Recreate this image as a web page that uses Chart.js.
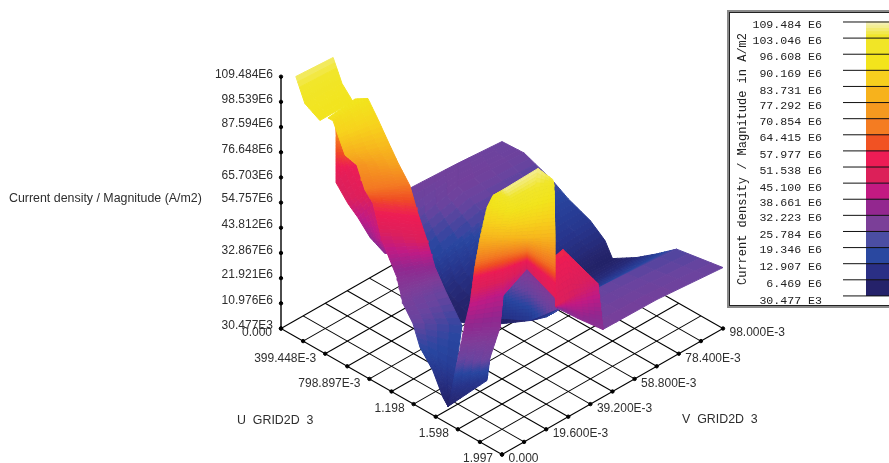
<!DOCTYPE html>
<html><head><meta charset="utf-8">
<style>html,body{margin:0;padding:0;background:#fff}canvas{display:block;filter:blur(.45px)}</style>
<script src="https://cdn.jsdelivr.net/npm/chart.js@4"></script></head>
<body><canvas id="c" width="889" height="463"></canvas>
<script>
// ---- axis labels ----
const zLabels=["30.477E3","10.976E6","21.921E6","32.867E6","43.812E6","54.757E6","65.703E6","76.648E6","87.594E6","98.539E6","109.484E6"];
const uLabels=["0.000","399.448E-3","798.897E-3","1.198","1.598","1.997"];
const vLabels=["0.000","19.600E-3","39.200E-3","58.800E-3","78.400E-3","98.000E-3"];
const legendValues=[109.484,103.046,96.608,90.169,83.731,77.292,70.854,64.415,57.977,51.538,45.1,38.661,32.223,25.784,19.346,12.907,6.469,0.03];
const legendLabels=["109.484 E6","103.046 E6","96.608 E6","90.169 E6","83.731 E6","77.292 E6","70.854 E6","64.415 E6","57.977 E6","51.538 E6","45.100 E6","38.661 E6","32.223 E6","25.784 E6","19.346 E6","12.907 E6","6.469 E6","30.477 E3"];
const legendColors=["#f3efae","#f1e526","#f3e41c","#f7cf1e","#f7b21c","#f5991f","#f47c22","#f15223","#ed1c55","#dc2059","#c31a82","#93278f","#7b3f98","#4b4ea3","#2a48a0","#2a2f85","#25226a"];
// colour ramp: magnitude (E6) -> colour
const rampValues=[0,6.5,12.9,19.3,25.8,32.2,38.7,45.1,51.5,58,64.4,70.9,77.3,83.7,90.2,96.6,103,109.5];
const rampColors=["#1f1f60","#25256e","#27348b","#2846a0","#68449f","#7f3c98","#92278f","#c01a85","#dc1f5c","#ed1c54","#f04e23","#f47c22","#f59a1f","#f7b51d","#f7d21c","#f2e41c","#f1e62a","#f4f0b4"];
// ---- surface patches: rows of [U grid index, V grid index, magnitude E6] ----
const backSheet=[
 [[0,10,26.5],[0,8,28],[0,5.9,29]],
 [[1,10,27],[1,7,29],[1,5,24]],
 [[2.3,10,22],[2.3,7,23],[2.3,4.4,17]],
 [[3,10,18],[3,7,18],[3,4,8]],
 [[4,10,14],[4,7,12],[4,4,3]],
 [[4.66,10,9],[4.66,7,8],[4.66,4.2,4]],
 [[5,10,3],[5,7,4],[5,4.8,3]],
 [[6.1,10,9.5],[6.1,7,9],[6.1,5.3,8]],
 [[7,10,16],[7,7,16],[7,5,16]],
 [[7.9,10,23],[7.9,7,25],[7.9,4.8,26]],
 [[10,10,26.5],[10,7,29],[10.15,4.42,31]]];
const valleySheet=[
 [[5.33,4.58,25],[6.41,4.72,38],[7.98,4.46,38]],
 [[5.55,4.36,11],[6.58,4.68,14],[8.21,4.32,30]]];
const humpSheet=[
 [[8.65,3.62,58],[8.72,4.04,60],[9.95,4.39,50]],
 [[10.09,2.35,52],[9.91,3.4,50],[9.85,4.5,48]],
 [[8.58,3.96,34],[9.79,3.65,38],[10.43,4.14,34]]];
const ridgeFlank=[
 [[.19,2.3,78],[.13,2.32,78]],
 [[.04,2.45,62],[.42,2.47,64]],
 [[.2,2.29,52],[.55,2.89,58]],
 [[1.12,1.91,50],[1.35,2.45,54]],
 [[1.44,2.04,45],[1.68,2.48,50]],
 [[1.87,2.16,38],[2.99,1.58,46]],
 [[2.66,2.04,36],[3.07,1.72,40]]];
const ridgeSheet=[
 [[1.47,.655,96],[1.42,1.93,97]],
 [[1.5,.85,94],[1.69,2.24,97]],
 [[1.825,.755,90],[2.2,2.15,92]],
 [[2.05,.85,82],[2.96,1.97,85]],
 [[2.17,1.27,76],[3.36,1.93,80]],
 [[2.79,1.01,70],[3.63,2.2,70]],
 [[2.76,1.4,62],[3.87,2.28,60]],
 [[3.17,1.4,48],[4.56,2.05,52]],
 [[3.89,1.36,36],[4.53,2.44,38]],
 [[4.51,1.01,30],[4.58,2.85,26]],
 [[5.16,.81,26],[5.8,2.39,20]],
 [[5.72,.57,20],[7.01,.91,16]],
 [[6.38,.49,14],[7.16,.58,10]],
 [[7.04,.29,7],[7.23,.42,6]],
 [[7.33,.23,5],[7.33,.23,5]]];
const archSheet=[
 [[8.37,1.22,97],[9.37,.77,108],[9.32,2.31,108],[9.73,2.57,104]],
 [[8.53,.79,95],[9.44,1.1,100],[9.66,1.83,102],[9.67,2.68,100]],
 [[8.56,.45,84],[9.12,.93,84],[9.66,1.47,84],[10.25,2.14,84]],
 [[8.1,.68,68],[8.45,1.59,68],[8.8,2.34,68],[10.1,2.29,68]],
 [[7.55,1.14,56],[7.91,2.13,56],[8.06,3.07,56],[9.6,2.79,56]],
 [[7.48,1.07,46],[7.73,2.32,44],[7.75,3.38,50],[10.14,2.3,56]]];
const archLeg=[
 [[7.48,1.07,46],[7.73,2.32,44]],
 [[7.61,.67,38],[8.2,1.71,36]],
 [[7.55,.36,22],[8.44,1.02,28]],
 [[7.35,.39,12],[8,1.32,14]],
 [[7.42,.14,6],[7.42,.14,6]]];
const plateauSheet=[
 [[.01,.66,106],[.1,2.26,106]],
 [[.74,.34,100],[.785,1.975,100]],
 [[1.48,.28,97],[1.47,1.78,97]]];
const paintOrder=[backSheet,valleySheet,humpSheet,ridgeFlank,ridgeSheet,archSheet,archLeg,plateauSheet];

// ---- oblique projection of the U/V floor and magnitude axis ----
const proj=(u,v,e)=>({x:281+22.1*(u+v),y:328.5+12.6*(u-v)-2.3*e});
const hex=c=>[1,3,5].map(i=>parseInt(c.substr(i,2),16));
function colorOf(e){
  let i=0;while(i<rampValues.length-2&&e>rampValues[i+1])i++;
  const t=Math.max(0,Math.min(1,(e-rampValues[i])/(rampValues[i+1]-rampValues[i])));
  const a=hex(rampColors[i]),b=hex(rampColors[i+1]);
  return `rgb(${a.map((q,k)=>Math.round(q+(b[k]-q)*t)).join(',')})`;
}
const lerp=(p,q,t)=>p.map((a,i)=>a+(q[i]-a)*t);
const ds=[];
function line(points,color,width,yAxisID){ds.push({data:points,showLine:true,fill:false,borderColor:color,borderWidth:width,pointRadius:0,tension:0,yAxisID:yAxisID||'y'});}
function shape(points,color,yAxisID){ds.push({data:points.concat([points[0]]),showLine:true,fill:'shape',backgroundColor:color,borderColor:color,borderWidth:1,pointRadius:0,tension:0,yAxisID:yAxisID||'y'});}
// floor grid
for(let i=0;i<=10;i++){
  line([proj(i,0,0),proj(i,10,0)],'#000',1.05);
  line([proj(0,i,0),proj(10,i,0)],'#000',1.05);
}
// magnitude axis
line([proj(0,0,0),proj(0,0,109.484)],'#000',1.4);
const dots=[];
for(let i=0;i<=10;i++){dots.push(proj(i,0,0),proj(10,i,0),proj(0,0,109.484*i/10));}
ds.push({data:dots,showLine:false,pointRadius:1.7,backgroundColor:'#000',borderColor:'#000',yAxisID:'y'});
// surface
for(const sheet of paintOrder){
  for(let r=0;r<sheet.length-1;r++)for(let c=0;c<sheet[r].length-1;c++){
    const A=sheet[r][c],B=sheet[r][c+1],C=sheet[r+1][c],D=sheet[r+1][c+1];
    const nr=Math.min(16,Math.max(4,Math.ceil(Math.max(Math.abs(A[2]-C[2]),Math.abs(B[2]-D[2]))/1.4)));
    const nc=Math.min(10,Math.max(4,Math.ceil(Math.max(Math.abs(A[2]-B[2]),Math.abs(C[2]-D[2]))/1.6)));
    for(let i=0;i<nr;i++)for(let j=0;j<nc;j++){
      const at=(a,b)=>lerp(lerp(A,B,b),lerp(C,D,b),a);
      const pts=[at(i/nr,j/nc),at(i/nr,(j+1)/nc),at((i+1)/nr,(j+1)/nc),at((i+1)/nr,j/nc)];
      const mid=at((i+.5)/nr,(j+.5)/nc);
      shape(pts.map(p=>proj(p[0],p[1],p[2])),colorOf(mid[2]));
    }
  }
}
// legend colour bar and ticks use their own value axis
const barL=866,barR=889,tickL=843;
legendColors.forEach((col,i)=>{
  const hi=legendValues[i],lo=legendValues[i+1];
  if(i===0){
    for(let k=0;k<5;k++){
      const a=hi-(hi-lo)*k/5,b=hi-(hi-lo)*(k+1)/5;
      shape([{x:barL,y:a},{x:barR,y:a},{x:barR,y:b},{x:barL,y:b}],colorOf(109.5-k*1.6),'yLeg');
    }
  } else shape([{x:barL,y:hi},{x:barR,y:hi},{x:barR,y:lo},{x:barL,y:lo}],col,'yLeg');
});
legendValues.forEach(v=>line([{x:tickL,y:v},{x:barR,y:v}],'#111',1,'yLeg'));

const textPlugin={id:'texts',
 beforeDatasetsDraw(chart){
  const g=chart.ctx;g.save();
  g.strokeStyle='#8a8a8a';g.lineWidth=2;g.strokeRect(728,11,170,296);
  g.strokeStyle='#222';g.lineWidth=1;g.strokeRect(729.5,12.5,170,293);
  g.restore();
 },
 afterDatasetsDraw(chart){
  const g=chart.ctx;g.save();g.fillStyle='#2e2e2e';g.textBaseline='middle';
  g.font='12px "Liberation Sans"';g.textAlign='right';
  const zy=[326,301,275,251,225,199,176,150,124,100,75];
  zLabels.forEach((t,i)=>g.fillText(t,273,zy[i]));
  uLabels.forEach((t,i)=>{const p=proj(i*2,0,0);g.fillText(t,p.x-9,p.y+4.5);});
  g.textAlign='left';
  vLabels.forEach((t,i)=>{const p=proj(10,i*2,0);g.fillText(t,p.x+6.5,p.y+4.5);});
  g.font='12.4px "Liberation Sans"';
  g.fillText('Current density / Magnitude (A/m2)',9,199);
  g.fillText('U  GRID2D  3',237,421);
  g.fillText('V  GRID2D  3',682,420);
  // legend text
  g.fillStyle='#222';g.font='11.6px "Liberation Mono"';g.textAlign='right';
  const ly=[25,41,57,74,91,106,122,138,155,171,188,203,218,235,250,267,284,301];
  legendLabels.forEach((t,i)=>g.fillText(t,822,ly[i]));
  g.translate(743,159);g.rotate(-Math.PI/2);g.textAlign='center';g.font='12px "Liberation Mono"';
  g.fillText('Current density / Magnitude in A/m2',0,0);
  g.restore();
 }};
new Chart(document.getElementById('c'),{type:'scatter',
 data:{datasets:ds.reverse()},
 options:{responsive:false,animation:false,events:[],parsing:false,normalized:true,
  layout:{padding:0,autoPadding:false},
  plugins:{legend:{display:false},tooltip:{enabled:false},title:{display:false}},
  scales:{
   x:{type:'linear',min:0,max:889,display:false},
   y:{type:'linear',min:0,max:463,reverse:true,display:false},
   yLeg:{type:'linear',min:(296-463)/2.5027,max:296/2.5027,display:false}
  }},
 plugins:[textPlugin]});
</script></body></html>
